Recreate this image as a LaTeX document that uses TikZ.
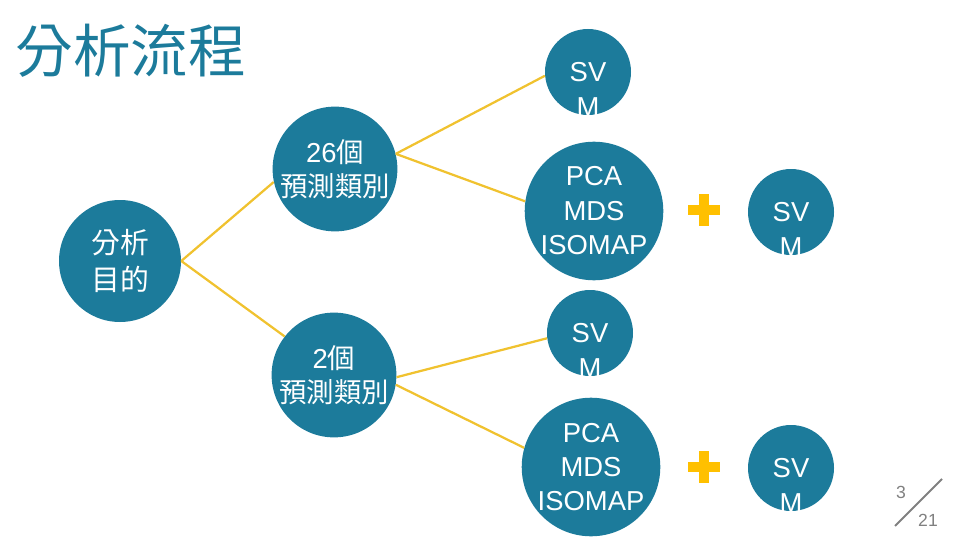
\documentclass[tikz,border=0pt]{standalone}
\usepackage{fontspec}
\setmainfont{Liberation Sans}
\newfontfamily\cjk{Noto Sans CJK TC}
\usetikzlibrary{positioning}
\definecolor{cTeal}{HTML}{1C7B9B}
\definecolor{cLink}{HTML}{F0C22F}
\definecolor{cPlus}{HTML}{FFC000}
\definecolor{cPage}{HTML}{808080}
\tikzset{
  circ/.style={circle, fill=cTeal, inner sep=0pt, text=white, align=center,
               font=\fontsize{19.5}{24.5}\selectfont},
  bigcirc/.style={circ, minimum size=3.05cm},
  smallcirc/.style={circ, minimum size=2.15cm},
  ctxt/.style={inner sep=0pt, text=white, align=center,
               font=\fontsize{19.5}{24.5}\selectfont},
  link/.style={draw=cLink, line width=1.6pt},
  plusmark/.style={minimum size=0.78cm, inner sep=0pt},
  plusbar/.style={draw=cPlus, line width=7.6pt},
  pagenum/.style={text=cPage, font=\fontsize{12.5}{14}\selectfont, inner sep=0pt}
}

\begin{document}
\begin{tikzpicture}
\useasboundingbox (0,0) rectangle (24,13.5);
% title
\node[text=cTeal, font=\cjk\fontsize{41}{48}\selectfont, anchor=west, inner sep=0pt]
     (title) at (0.38,12.22) {分析流程};
% goal and class counts
\node[bigcirc, font=\cjk\fontsize{20.5}{26}\selectfont] (goal) at (3.0,6.975) {分析\\目的};
\node[bigcirc] (cls26) at (8.375,9.275) {26{\cjk 個}\\{\cjk 預測類別}};
\node[bigcirc] (cls2) at (8.35,4.125) {2{\cjk 個}\\{\cjk 預測類別}};
% methods, 26 classes
\node[smallcirc] (svmA) at (14.7,11.7) {};
\node[ctxt, anchor=north] (svmAt) at ([yshift=7pt]svmA.center) {SV\\M};
\node[bigcirc] (pcaA) at (14.85,8.225) {PCA\\MDS\\ISOMAP};
\node[plusmark] (plusA) at (17.6,8.25) {};
\node[smallcirc] (svmB) at (19.775,8.2) {};
\node[ctxt, anchor=north] (svmBt) at ([yshift=7pt]svmB.center) {SV\\M};
% methods, 2 classes
\node[smallcirc] (svmC) at (14.75,5.175) {};
\node[ctxt, anchor=north] (svmCt) at ([yshift=7pt]svmC.center) {SV\\M};
\node[bigcirc] (pcaB) at (14.775,1.825) {PCA\\MDS\\ISOMAP};
\node[plusmark] (plusB) at (17.6,1.825) {};
\node[smallcirc] (svmD) at (19.775,1.8) {};
\node[ctxt, anchor=north] (svmDt) at ([yshift=7pt]svmD.center) {SV\\M};
% connectors
\draw[link] (goal.east) -- (cls26.192);
\draw[link] (goal.east) -- (cls2.142);
\draw[link] (cls26.14) -- (svmA.185);
\draw[link] (cls26.14) -- (pcaA.172);
\draw[link] (cls2.-2) -- (svmC.187);
\draw[link] (cls2.-9) -- (pcaB.164);
\draw[plusbar] (plusA.west) -- (plusA.east) (plusA.north) -- (plusA.south);
\draw[plusbar] (plusB.west) -- (plusB.east) (plusB.north) -- (plusB.south);
% page number
\node[pagenum] (pg) at (22.525,1.2) {3};
\node[pagenum] (pgtot) at (23.2,0.5) {21};
\coordinate (slashlo) at (22.375,0.35);
\coordinate (slashhi) at (23.55,1.525);
\draw[cPage, line width=1.3pt] (slashlo) -- (slashhi);
\end{tikzpicture}
\end{document}
